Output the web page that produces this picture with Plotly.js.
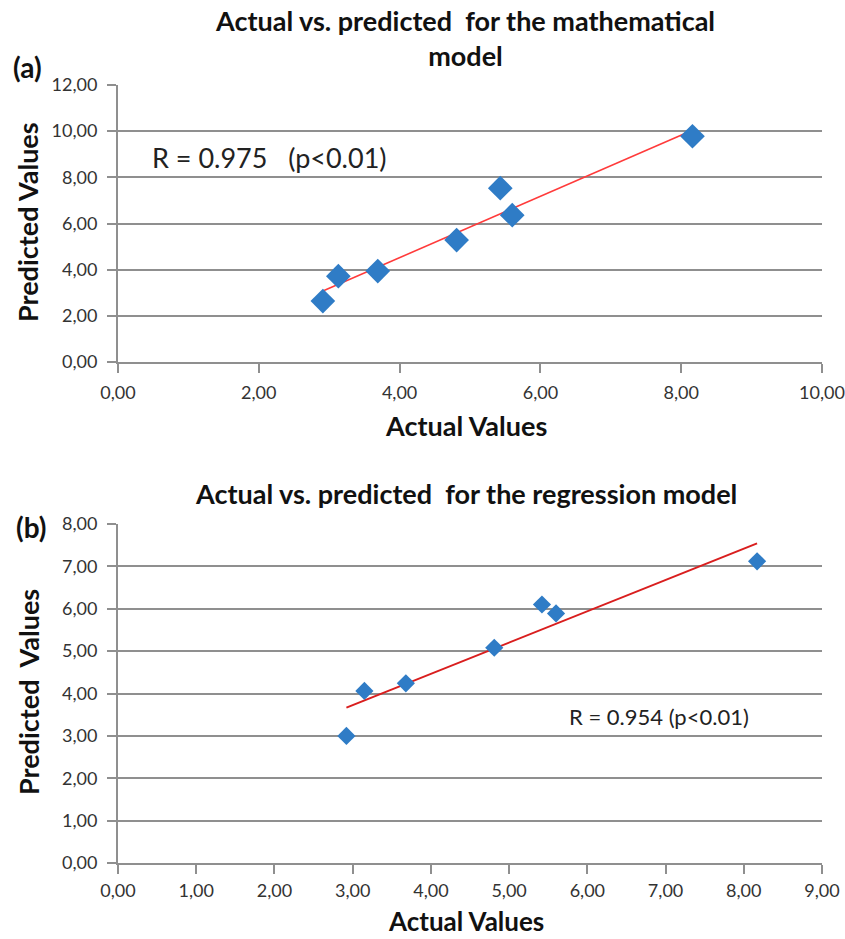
<!DOCTYPE html>
<html>
<head>
<meta charset="utf-8">
<script src="https://cdn.plot.ly/plotly-3.0.1.min.js"></script>
<style>html,body{margin:0;padding:0;background:#fff;}#chart{width:845px;height:939px;}</style>
</head>
<body>
<div id="chart"></div>
<script>
// Panel (a): mathematical model
const actualA = [2.91, 3.13, 3.69, 4.81, 5.43, 5.60, 8.16];
const predictedA = [2.64, 3.72, 3.94, 5.28, 7.53, 6.36, 9.78];
// Panel (b): regression model
const actualB = [2.92, 3.15, 3.68, 4.81, 5.42, 5.60, 8.17];
const predictedB = [3.00, 4.06, 4.24, 5.08, 6.10, 5.89, 7.12];

const titleA = "Actual vs. predicted  for the mathematical<br>model";
const titleB = "Actual vs. predicted  for the regression model";
const labelA = "R = 0.975   (p<0.01)";
const labelB = "R = 0.954 (p<0.01)";

function fitLine(xs, ys) {
  const n = xs.length;
  const mx = xs.reduce((a, b) => a + b, 0) / n;
  const my = ys.reduce((a, b) => a + b, 0) / n;
  let sxy = 0, sxx = 0;
  for (let i = 0; i < n; i++) { sxy += (xs[i] - mx) * (ys[i] - my); sxx += (xs[i] - mx) ** 2; }
  const m = sxy / sxx, c = my - m * mx;
  const x0 = Math.min(...xs), x1 = Math.max(...xs);
  return { x: [x0, x1], y: [m * x0 + c, m * x1 + c] };
}
const fitA = fitLine(actualA, predictedA);
const fitB = fitLine(actualB, predictedB);

const FONT = "Lato, 'Open Sans', sans-serif";
const blue = "#2f7cc6";
const grid = "#8f8f8f";

const traces = [
  { x: fitA.x, y: fitA.y, mode: "lines", line: { color: "#ff3b3b", width: 1.6 }, xaxis: "x", yaxis: "y", hoverinfo: "skip" },
  { x: actualA, y: predictedA, mode: "markers", marker: { symbol: "diamond", size: 19, color: blue }, xaxis: "x", yaxis: "y" },
  { x: fitB.x, y: fitB.y, mode: "lines", line: { color: "#d91e1e", width: 2 }, xaxis: "x2", yaxis: "y2", hoverinfo: "skip" },
  { x: actualB, y: predictedB, mode: "markers", marker: { symbol: "diamond", size: 14, color: blue }, xaxis: "x2", yaxis: "y2" }
];

const axisCommon = {
  showline: true, linecolor: grid, linewidth: 2,
  ticks: "outside", ticklen: 9, tickcolor: grid, tickwidth: 2,
  ticklabeloverflow: "allow",
  tickformat: ".2f", tickfont: { family: FONT, size: 18, color: "#333" },
  zeroline: false, automargin: false, fixedrange: true
};

const layout = {
  width: 845, height: 939,
  margin: { l: 0, r: 0, t: 0, b: 0 },
  paper_bgcolor: "#fff", plot_bgcolor: "#fff",
  showlegend: false,
  separators: ",.",
  font: { family: FONT },
  xaxis: Object.assign({}, axisCommon, { domain: [118/845, 822/845], range: [0, 10], dtick: 2, tick0: 0, showgrid: false, anchor: "y", ticklabelstandoff: 4 }),
  yaxis: Object.assign({}, axisCommon, { domain: [(939-362)/939, (939-85)/939], range: [0, 12], dtick: 2, tick0: 0, showgrid: true, gridcolor: grid, gridwidth: 2, anchor: "x", ticklabelstandoff: 6 }),
  xaxis2: Object.assign({}, axisCommon, { domain: [118/845, 822/845], range: [0, 9], dtick: 1, tick0: 0, showgrid: false, anchor: "y2", ticklabelstandoff: 1 }),
  yaxis2: Object.assign({}, axisCommon, { domain: [(939-863)/939, (939-524)/939], range: [0, 8], dtick: 1, tick0: 0, showgrid: true, gridcolor: grid, gridwidth: 2, anchor: "x2", ticklabelstandoff: 6 }),
  annotations: [
    { text: "<b>" + titleA + "</b>", xref: "paper", yref: "paper", x: 465/845, y: 1 - 38/939, xanchor: "center", yanchor: "middle", showarrow: false, font: { family: FONT, size: 27, color: "#111" } },
    { text: "<b>" + titleB + "</b>", xref: "paper", yref: "paper", x: 466/845, y: 1 - 493/939, xanchor: "center", yanchor: "middle", showarrow: false, font: { family: FONT, size: 27, color: "#111" } },
    { text: "<b>(a)</b>", xref: "paper", yref: "paper", x: 11/845, y: 1 - 67/939, xanchor: "left", yanchor: "middle", showarrow: false, font: { family: FONT, size: 28, color: "#111" } },
    { text: "<b>(b)</b>", xref: "paper", yref: "paper", x: 14/845, y: 1 - 527/939, xanchor: "left", yanchor: "middle", showarrow: false, font: { family: FONT, size: 28, color: "#111" } },
    { text: "<b>Actual Values</b>", xref: "paper", yref: "paper", x: 466/845, y: 1 - 425/939, xanchor: "center", yanchor: "middle", showarrow: false, font: { family: FONT, size: 27, color: "#111" } },
    { text: "<b>Actual Values</b>", xref: "paper", yref: "paper", x: 466/845, y: 1 - 921/939, xanchor: "center", yanchor: "middle", showarrow: false, font: { family: FONT, size: 26, color: "#111" } },
    { text: "<b>Predicted Values</b>", xref: "paper", yref: "paper", x: 28/845, y: 1 - 222/939, xanchor: "center", yanchor: "middle", textangle: -90, showarrow: false, font: { family: FONT, size: 27, color: "#111" } },
    { text: "<b>Predicted  Values</b>", xref: "paper", yref: "paper", x: 28/845, y: 1 - 692/939, xanchor: "center", yanchor: "middle", textangle: -90, showarrow: false, font: { family: FONT, size: 27, color: "#111" } },
    { text: labelA, xref: "paper", yref: "paper", x: 150/845, y: 1 - 157/939, xanchor: "left", yanchor: "middle", showarrow: false, font: { family: FONT, size: 27, color: "#222" } },
    { text: labelB, xref: "paper", yref: "paper", x: 567/845, y: 1 - 716/939, xanchor: "left", yanchor: "middle", showarrow: false, font: { family: FONT, size: 22, color: "#222" } }
  ]
};

Plotly.newPlot("chart", traces, layout, { displayModeBar: false, staticPlot: true });
</script>
</body>
</html>
